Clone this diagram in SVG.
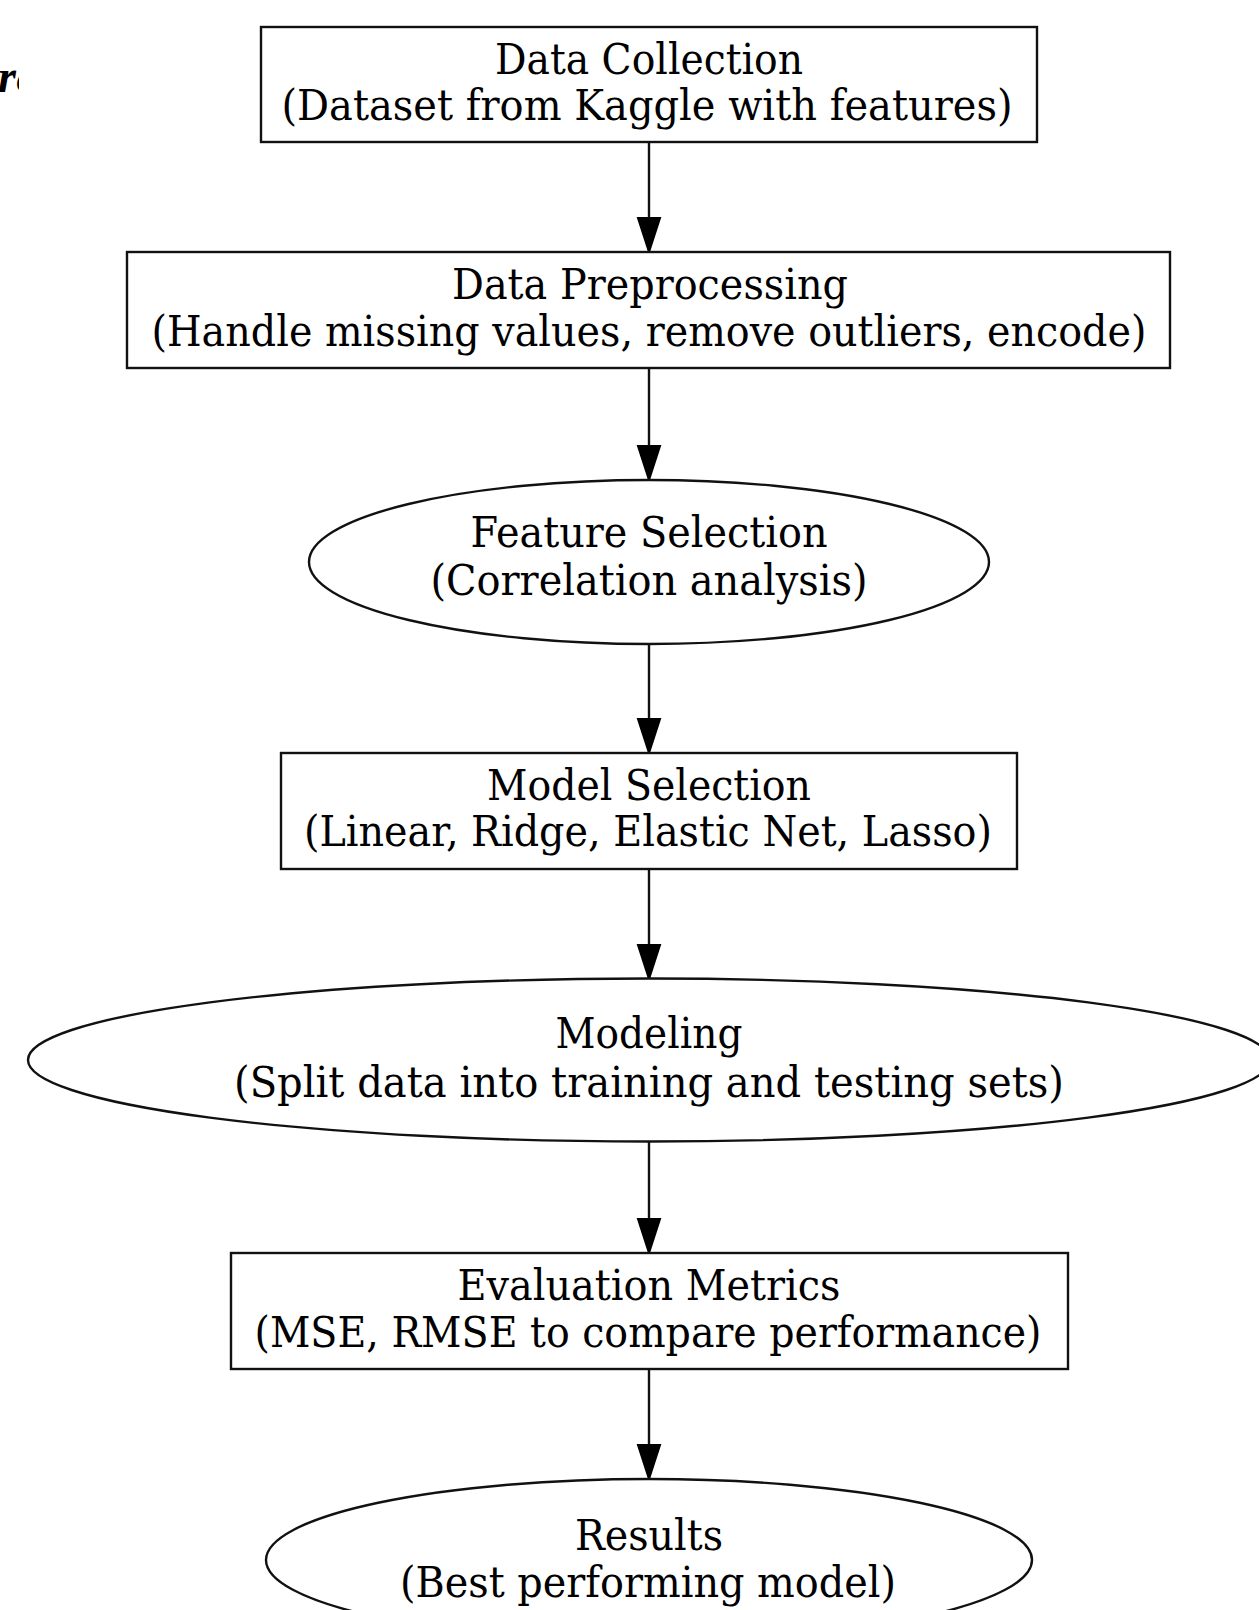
<svg xmlns="http://www.w3.org/2000/svg" width="1259" height="1610" viewBox="0 0 1259 1610">
  <style>
    .box { fill: #ffffff; stroke: #111111; stroke-width: 2.4; }
    .lbl { font-family: "DejaVu Serif", "Liberation Serif", serif; font-size: 42px; fill: #000000; text-anchor: middle; }
    .edge { stroke: #111111; stroke-width: 2.4; fill: none; }
    .head { fill: #000000; stroke: #000000; stroke-width: 2; }
    .title { font-family: "Liberation Serif", serif; font-style: italic; font-weight: bold; font-size: 46px; fill: #000000; }
  </style>
  <defs>
    <clipPath id="titleClip">
      <rect x="0" y="0" width="19" height="120"/>
    </clipPath>
  </defs>
  <rect x="0" y="0" width="1259" height="1610" fill="#ffffff"/>

  <!-- clipped heading fragment at the top-left edge -->
  <g id="heading" clip-path="url(#titleClip)">
    <text class="title" x="-2" y="92">re</text>
  </g>

  <!-- connectors -->
  <g id="connectors">
    <line class="edge" x1="649" y1="142" x2="649" y2="218"/>
    <polygon class="head" points="638,218 660,218 649,252"/>
    <line class="edge" x1="649" y1="368" x2="649" y2="446"/>
    <polygon class="head" points="638,446 660,446 649,480"/>
    <line class="edge" x1="649" y1="644" x2="649" y2="719"/>
    <polygon class="head" points="638,719 660,719 649,753"/>
    <line class="edge" x1="649" y1="869" x2="649" y2="945"/>
    <polygon class="head" points="638,945 660,945 649,979"/>
    <line class="edge" x1="649" y1="1142" x2="649" y2="1219"/>
    <polygon class="head" points="638,1219 660,1219 649,1253"/>
    <line class="edge" x1="649" y1="1369" x2="649" y2="1445"/>
    <polygon class="head" points="638,1445 660,1445 649,1479"/>
  </g>

  <g id="data-collection">
    <rect class="box" x="261" y="27" width="776" height="115"/>
    <text class="lbl" x="649" y="74" textLength="308" lengthAdjust="spacingAndGlyphs">Data Collection</text>
    <text class="lbl" x="647" y="120" textLength="731" lengthAdjust="spacingAndGlyphs">(Dataset from Kaggle with features)</text>
  </g>

  <g id="data-preprocessing">
    <rect class="box" x="127" y="252" width="1043" height="116"/>
    <text class="lbl" x="650" y="299" textLength="396" lengthAdjust="spacingAndGlyphs">Data Preprocessing</text>
    <text class="lbl" x="649" y="346" textLength="995" lengthAdjust="spacingAndGlyphs">(Handle missing values, remove outliers, encode)</text>
  </g>

  <g id="feature-selection">
    <ellipse class="box" cx="649" cy="562" rx="340" ry="82"/>
    <text class="lbl" x="649" y="547" textLength="357" lengthAdjust="spacingAndGlyphs">Feature Selection</text>
    <text class="lbl" x="649" y="595" textLength="437" lengthAdjust="spacingAndGlyphs">(Correlation analysis)</text>
  </g>

  <g id="model-selection">
    <rect class="box" x="281" y="753" width="736" height="116"/>
    <text class="lbl" x="649" y="800" textLength="324" lengthAdjust="spacingAndGlyphs">Model Selection</text>
    <text class="lbl" x="648" y="846" textLength="688" lengthAdjust="spacingAndGlyphs">(Linear, Ridge, Elastic Net, Lasso)</text>
  </g>

  <g id="modeling">
    <ellipse class="box" cx="649" cy="1060" rx="621" ry="81.5"/>
    <text class="lbl" x="649" y="1048" textLength="187" lengthAdjust="spacingAndGlyphs">Modeling</text>
    <text class="lbl" x="649" y="1097" textLength="830" lengthAdjust="spacingAndGlyphs">(Split data into training and testing sets)</text>
  </g>

  <g id="evaluation-metrics">
    <rect class="box" x="231" y="1253" width="837" height="116"/>
    <text class="lbl" x="649" y="1300" textLength="383" lengthAdjust="spacingAndGlyphs">Evaluation Metrics</text>
    <text class="lbl" x="648" y="1347" textLength="787" lengthAdjust="spacingAndGlyphs">(MSE, RMSE to compare performance)</text>
  </g>

  <g id="results">
    <ellipse class="box" cx="649" cy="1560" rx="383" ry="81"/>
    <text class="lbl" x="649" y="1550" textLength="148" lengthAdjust="spacingAndGlyphs">Results</text>
    <text class="lbl" x="648" y="1597" textLength="496" lengthAdjust="spacingAndGlyphs">(Best performing model)</text>
  </g>
</svg>
